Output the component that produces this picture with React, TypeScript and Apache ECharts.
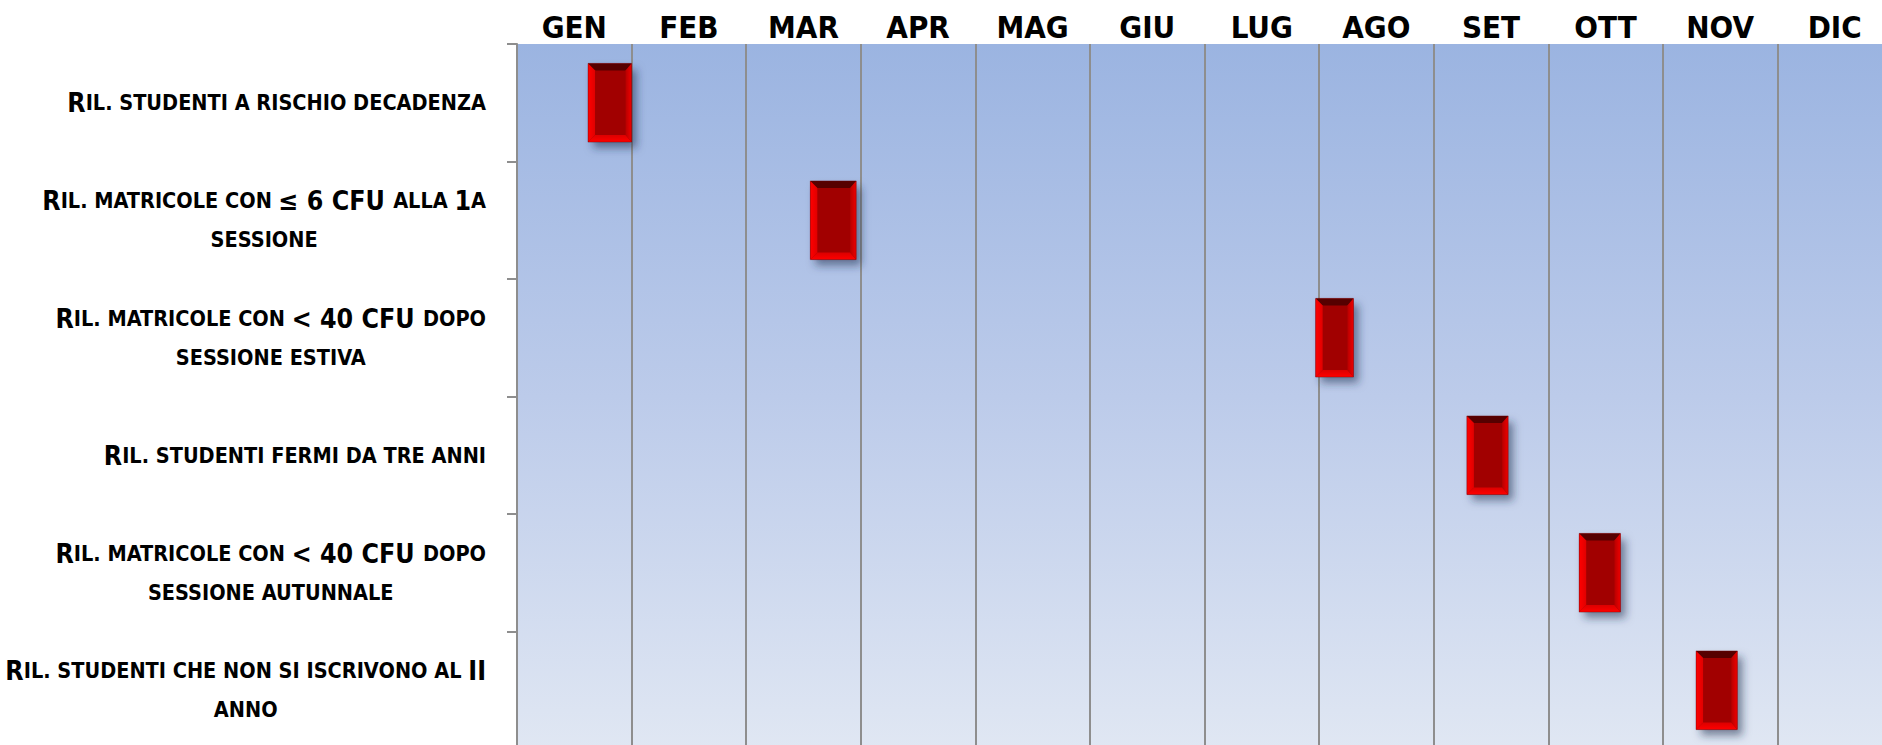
import React, { useEffect, useRef } from "react";
import * as echarts from "echarts";

const months = ["GEN", "FEB", "MAR", "APR", "MAG", "GIU", "LUG", "AGO", "SET", "OTT", "NOV", "DIC"];

const activities = [
  "Ril. studenti a rischio decadenza",
  "Ril. matricole con ≤ 6 CFU alla 1a\nsessione",
  "Ril. matricole con < 40 CFU dopo\nsessione estiva",
  "Ril. studenti fermi da tre anni",
  "Ril. matricole con < 40 CFU dopo\nsessione autunnale",
  "Ril. studenti che non si iscrivono al II\nanno",
];

// start / end of each activity, in months from the start of January
const startMonth = [0.62, 2.56, 6.97, 8.29, 9.27, 10.29];
const endMonth = [1.0, 2.96, 7.3, 8.65, 9.63, 10.65];

const FONT = "'DejaVu Sans Condensed', 'DejaVu Sans', sans-serif";

function toSmallCaps(label: string): string {
  return label
    .split("\n")
    .map((line) => {
      let out = "";
      let cur: string | null = null;
      let buf = "";
      for (const ch of Array.from(line)) {
        const isLower = ch !== ch.toUpperCase();
        let kind: string | null = isLower ? "s" : /[A-Z0-9≤<]/.test(ch) ? "b" : null;
        if (kind === null) kind = cur ?? "s";
        if (kind !== cur && buf) {
          out += `{${cur}|${buf}}`;
          buf = "";
        }
        cur = kind;
        buf += isLower ? ch.toUpperCase() : ch;
      }
      if (buf) out += `{${cur}|${buf}}`;
      return out;
    })
    .join("\n");
}

export default function App() {
  const ref = useRef<HTMLDivElement>(null);

  useEffect(() => {
    if (!ref.current) return;
    const chart = echarts.init(ref.current, undefined, { renderer: "svg" });

    const data = activities.map((_, i) => [i, startMonth[i], endMonth[i]]);

    const option: any = {
      animation: false,
      grid: {
        left: 517,
        top: 44,
        width: 1375,
        height: 705,
        outerBoundsMode: "none",
        containLabel: false,
        show: true,
        borderWidth: 0,
        backgroundColor: new echarts.graphic.LinearGradient(0, 0, 0, 1, [
          { offset: 0, color: "#9bb4e1" },
          { offset: 0.5, color: "#bccbea" },
          { offset: 1, color: "#e0e7f3" },
        ]),
      },
      xAxis: [
        {
          type: "category",
          data: months,
          position: "top",
          boundaryGap: true,
          axisLine: { show: false },
          axisTick: { show: false },
          splitLine: { show: false },
          axisLabel: {
            interval: 0,
            margin: 17,
            verticalAlign: "middle",
            fontSize: 31,
            fontWeight: "bold",
            fontFamily: FONT,
            color: "#000",
          },
        },
        {
          type: "value",
          min: 0,
          max: 12,
          interval: 1,
          position: "bottom",
          axisLine: { show: false },
          axisTick: { show: false },
          axisLabel: { show: false },
          splitLine: { show: true, lineStyle: { color: "#8e8e8e", width: 2 } },
        },
      ],
      yAxis: {
        type: "category",
        data: activities,
        inverse: true,
        boundaryGap: true,
        axisLine: { show: true, lineStyle: { color: "#8e8e8e", width: 2 } },
        axisTick: { show: true, length: 10, interval: 0, lineStyle: { color: "#8e8e8e", width: 2 } },
        splitLine: { show: false },
        axisLabel: {
          interval: 0,
          margin: 31,
          formatter: (v: string) => toSmallCaps(v),
          rich: {
            b: { fontSize: 26.5, fontWeight: "bold", fontFamily: FONT, color: "#000", align: "center", lineHeight: 39 },
            s: { fontSize: 21.5, fontWeight: "bold", fontFamily: FONT, color: "#000", align: "center", lineHeight: 39 },
          },
        },
      },
      series: [
        {
          type: "custom",
          xAxisIndex: 1,
          yAxisIndex: 0,
          encode: { x: [1, 2], y: 0 },
          data,
          renderItem: (params: any, api: any) => {
            const row = api.value(0);
            const s = api.value(1);
            const e = api.value(2);
            const p0 = api.coord([s, row]);
            const p1 = api.coord([e, row]);
            const band = api.size([0, 1])[1];
            const h = band * 0.67;
            const x0 = p0[0];
            const x1 = p1[0];
            const y0 = p0[1] - h / 2;
            const y1 = p0[1] + h / 2;
            const b = 7;
            const br = 6;
            return {
              type: "group",
              children: [
                {
                  type: "rect",
                  shape: { x: x0, y: y0, width: x1 - x0, height: h },
                  style: {
                    fill: "#a10000",
                    shadowBlur: 9,
                    shadowOffsetX: 5,
                    shadowOffsetY: 6,
                    shadowColor: "rgba(30,45,80,0.55)",
                  },
                },
                {
                  type: "polygon",
                  shape: { points: [[x0, y0], [x1, y0], [x1 - br, y0 + b], [x0 + b, y0 + b]] },
                  style: { fill: "#560000" },
                },
                {
                  type: "polygon",
                  shape: { points: [[x0, y0], [x0 + b, y0 + b], [x0 + b, y1 - b], [x0, y1]] },
                  style: {
                    fill: new echarts.graphic.LinearGradient(0, 0, 1, 0, [
                      { offset: 0, color: "#ff0000" },
                      { offset: 1, color: "#e00000" },
                    ]),
                  },
                },
                {
                  type: "polygon",
                  shape: { points: [[x0, y1], [x0 + b, y1 - b], [x1 - br, y1 - b], [x1, y1]] },
                  style: {
                    fill: new echarts.graphic.LinearGradient(0, 1, 0, 0, [
                      { offset: 0, color: "#ff0000" },
                      { offset: 1, color: "#dc0000" },
                    ]),
                  },
                },
                {
                  type: "polygon",
                  shape: { points: [[x1, y0], [x1, y1], [x1 - br, y1 - b], [x1 - br, y0 + b]] },
                  style: {
                    fill: new echarts.graphic.LinearGradient(1, 0, 0, 0, [
                      { offset: 0, color: "#ee0000" },
                      { offset: 1, color: "#b80000" },
                    ]),
                  },
                },
                {
                  type: "rect",
                  shape: { x: x0, y: y0, width: x1 - x0, height: h },
                  style: { fill: "none", stroke: "rgba(110,0,0,0.5)", lineWidth: 0.8 },
                },
              ],
            };
          },
        },
      ],
    };

    chart.setOption(option);
    return () => chart.dispose();
  }, []);

  return (
    <div
      ref={ref}
      style={{ position: "absolute", left: 0, top: 0, width: 1882, height: 745 }}
    />
  );
}
